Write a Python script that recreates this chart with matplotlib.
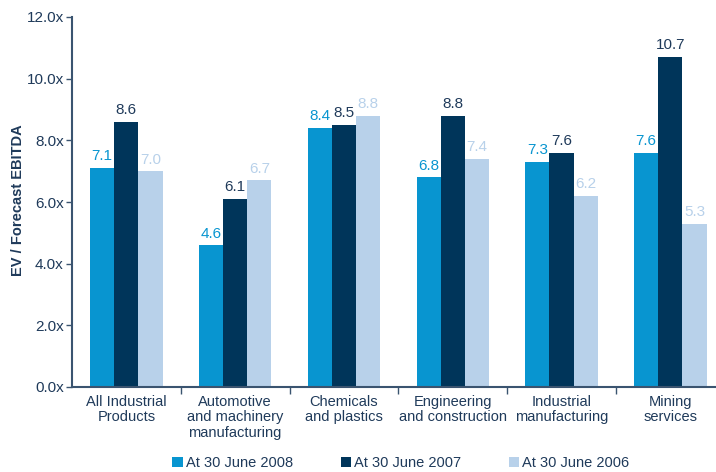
import matplotlib
matplotlib.use("Agg")
import matplotlib.pyplot as plt
import numpy as np

categories = ["All Industrial\nProducts", "Automotive\nand machinery\nmanufacturing",
              "Chemicals\nand plastics", "Engineering\nand construction",
              "Industrial\nmanufacturing", "Mining\nservices"]
series_names = ["At 30 June 2008", "At 30 June 2007", "At 30 June 2006"]
v2008 = [7.1, 4.6, 8.4, 6.8, 7.3, 7.6]
v2007 = [8.6, 6.1, 8.5, 8.8, 7.6, 10.7]
v2006 = [7.0, 6.7, 8.8, 7.4, 6.2, 5.3]
yticks = [0, 2, 4, 6, 8, 10, 12]

colors = ["#0895d0", "#00355a", "#b8d1ea"]
label_colors = ["#0895d0", "#1f3a5a", "#b8d1ea"]
text_color = "#1f3a5a"

plt.rcParams['font.family'] = ['Liberation Sans', 'DejaVu Sans']
fig = plt.figure(figsize=(7.16, 4.72), dpi=100)
ax = fig.add_axes([72/716, 1-387/472, 1-72/716, (387-17)/472])

x = np.arange(len(categories))
w = 0.222
for k, vals in enumerate([v2008, v2007, v2006]):
    xs = x + (k-1)*w
    ax.bar(xs, vals, width=w, color=colors[k], label=series_names[k], linewidth=0)
    for xi, v in zip(xs, vals):
        ax.text(xi, v + 0.15, f"{v:.1f}", ha="center", va="bottom", fontsize=11, color=label_colors[k])

ax.set_xlim(-0.5, 5.42)
ax.set_ylim(0, 12)
ax.set_yticks(yticks)
ax.set_yticklabels([f"{t:.1f}x" for t in yticks], fontsize=11, color=text_color)
ax.set_xticks(np.arange(0.5, 5.0, 1.0))
ax.set_xticklabels([])
ax.tick_params(axis='x', length=5, color="#3a5470", width=1)
ax.tick_params(axis='y', length=4, color="#3a5470", width=1, pad=2)
for i, c in enumerate(categories):
    ax.text(i, -0.25, c, ha="center", va="top", fontsize=10.5, color=text_color, linespacing=1.15)
for s in ["top", "right"]:
    ax.spines[s].set_visible(False)
for s in ["left", "bottom"]:
    ax.spines[s].set_color("#3a5470")
    ax.spines[s].set_linewidth(1.5)
fig.text(18/716, 1-200/472, "EV / Forecast EBITDA", rotation=90, ha="center", va="center",
         fontsize=10.5, color=text_color, fontweight="semibold")

handles, labels = ax.get_legend_handles_labels()
fig.legend(handles, labels, loc="center", bbox_to_anchor=(0.56, 1-463/472), ncol=3, frameon=False,
           fontsize=10.5, handlelength=0.7, handleheight=0.7, handletextpad=0.2, columnspacing=3.3,
           labelcolor=text_color, borderpad=0.1)

fig.savefig("out.png", dpi=100)
